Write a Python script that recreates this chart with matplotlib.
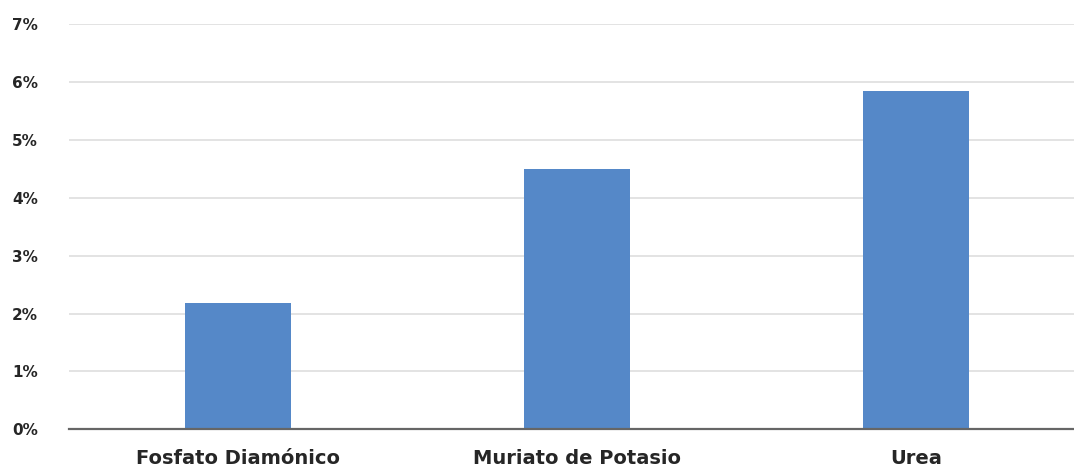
import matplotlib.pyplot as plt
from matplotlib.ticker import PercentFormatter

categories = ["Fosfato Diamónico", "Muriato de Potasio", "Urea"]
values = [0.0218, 0.0450, 0.0585]
y_ticks = [0.00, 0.01, 0.02, 0.03, 0.04, 0.05, 0.06, 0.07]

fig = plt.figure(figsize=(10.74, 4.68), dpi=100)
# axes run slightly past the right edge, as in the cropped original
ax = fig.add_axes([68.5 / 1074, 38.7 / 468, 1017 / 1074, 405 / 468])

x = range(len(categories))
ax.bar(x, values, width=0.313, color="#5588C8", zorder=3)

ax.set_xlim(-0.5, 2.5)
ax.set_ylim(0, 0.07)
ax.set_yticks(y_ticks)
ax.yaxis.set_major_formatter(PercentFormatter(1.0, decimals=0))
ax.set_xticks(list(x))
ax.set_xticklabels(categories)

ax.grid(axis="y", color="#DEDEDE", linewidth=1.2, zorder=0)
for side in ("top", "right", "left"):
    ax.spines[side].set_visible(False)
ax.spines["bottom"].set_color("#666666")
ax.spines["bottom"].set_linewidth(1.6)
ax.spines["bottom"].set_zorder(4)

ax.tick_params(axis="both", length=0, colors="#262626")
ax.tick_params(axis="y", pad=22)
ax.tick_params(axis="x", pad=14)
for lbl in ax.get_yticklabels():
    lbl.set_fontsize(11)
    lbl.set_fontweight("bold")
    lbl.set_family("DejaVu Sans")
for lbl in ax.get_xticklabels():
    lbl.set_fontsize(14)
    lbl.set_fontweight("bold")
    lbl.set_family("DejaVu Sans")

fig.savefig("out.png", dpi=100)
